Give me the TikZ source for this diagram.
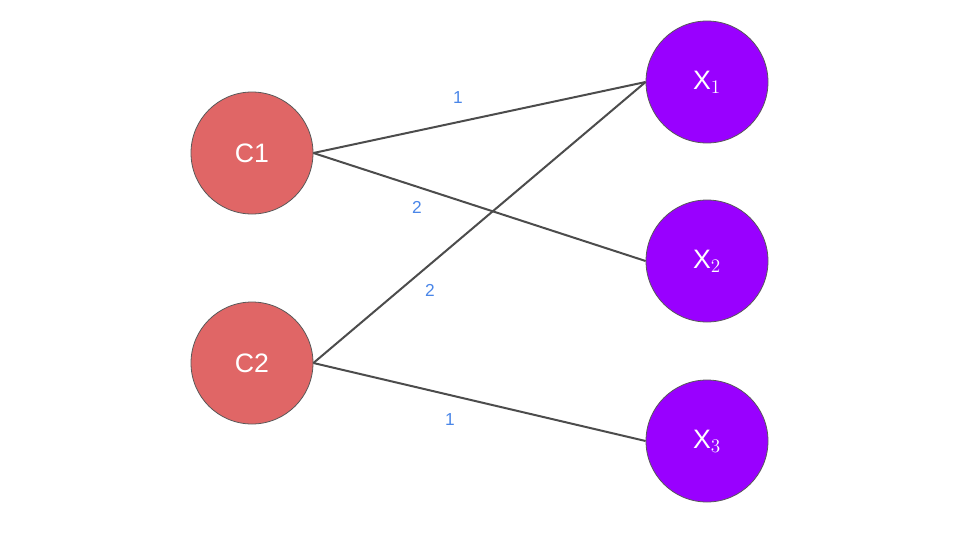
\documentclass[tikz,border=0pt]{standalone}
\usepackage{fontspec}
\setmainfont{Liberation Sans}
\begin{document}
\begin{tikzpicture}[x=1pt,y=-1pt,
  cnode/.style={circle,draw=black!65,line width=0.6pt,fill=#1,minimum size=91.5pt,inner sep=0pt,text=white,font=\fontsize{20}{20}\selectfont},
  edge/.style={draw=black!70,line width=1.5pt},
  lab/.style={text=blue!45!cyan!70!black,font=\fontsize{13}{13}\selectfont}]
\definecolor{cred}{HTML}{E06666}\definecolor{cpur}{HTML}{9900FF}\definecolor{cblue}{HTML}{4A86E8}
\tikzset{lab/.append style={text=cblue}}
\useasboundingbox (0,0) rectangle (720,405);
\node[cnode=cred] (c1) at (189,114.75) {C1};
\node[cnode=cred] (c2) at (189,272.25) {C2};
\node[cnode=cpur] (x1) at (530.25,61.5) {X$_1$};
\node[cnode=cpur] (x2) at (530.25,195.75) {X$_2$};
\node[cnode=cpur] (x3) at (530.25,330.75) {X$_3$};
\draw[edge] (c1.east) -- (x1.west);
\draw[edge] (c1.east) -- (x2.west);
\draw[edge] (c2.east) -- (x1.west);
\draw[edge] (c2.east) -- (x3.west);
\node[lab] (l1) at (343.5,73.5) {1};
\node[lab] (l2) at (312.75,155.25) {2};
\node[lab] (l3) at (322.5,217.5) {2};
\node[lab] (l4) at (337.5,315) {1};
\end{tikzpicture}
\end{document}
